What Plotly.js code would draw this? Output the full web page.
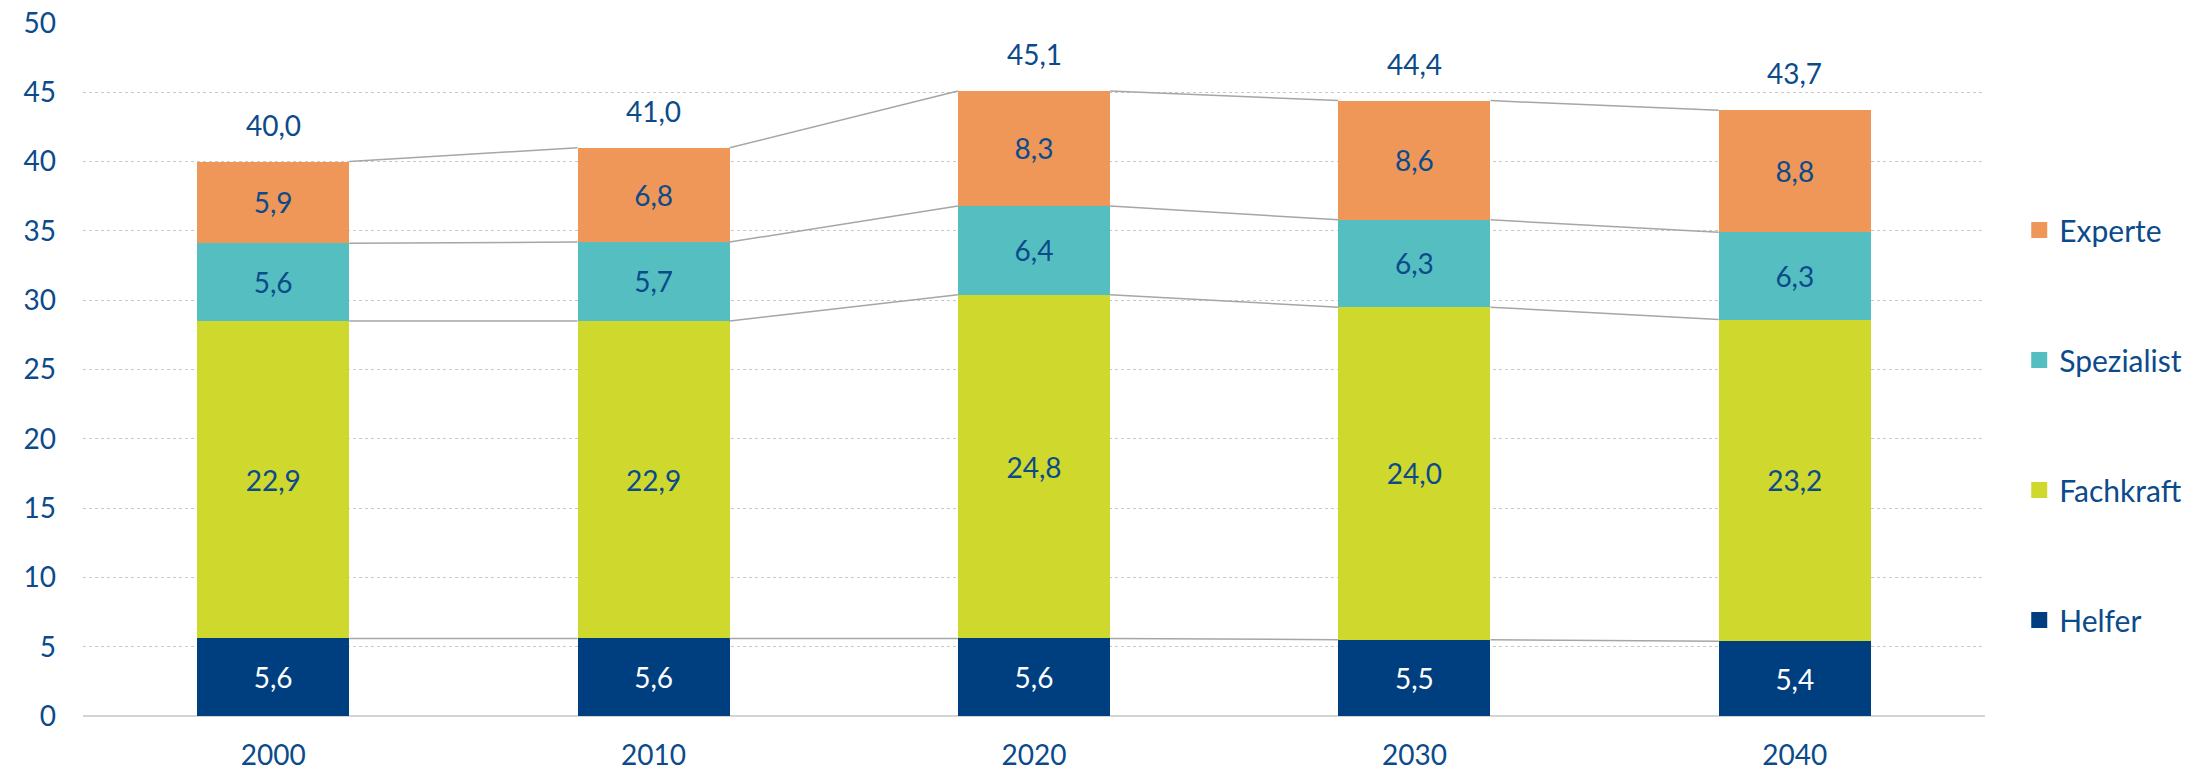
<!DOCTYPE html>
<html>
<head>
<meta charset="utf-8">
<script src="https://cdn.plot.ly/plotly-3.0.1.min.js"></script>
<style>
  html, body { margin: 0; padding: 0; background: #ffffff; }
  #chart { width: 2208px; height: 772px; }
</style>
</head>
<body>
<div id="chart"></div>
<script>
// Werte je Anforderungsniveau (Mio.), von unten nach oben gestapelt
const years = ['2000', '2010', '2020', '2030', '2040'];
const helfer = [5.6, 5.6, 5.6, 5.5, 5.4];
const fachkraft = [22.9, 22.9, 24.8, 24.0, 23.2];
const spezialist = [5.6, 5.7, 6.4, 6.3, 6.3];
const experte = [5.9, 6.8, 8.3, 8.6, 8.8];
const totals = [40.0, 41.0, 45.1, 44.4, 43.7];

const textBlue = '#0b4a8b';
const fontFam = 'Lato, "Noto Sans", sans-serif';
const halfBar = 0.2;

const series = [
    { name: 'Helfer', y: helfer, color: '#003f7f', text: '#ffffff' },
    { name: 'Fachkraft', y: fachkraft, color: '#cfd82d', text: textBlue },
    { name: 'Spezialist', y: spezialist, color: '#55bec0', text: textBlue },
    { name: 'Experte', y: experte, color: '#ee9758', text: textBlue }
];

const xIdx = years.map((_, i) => i);
const traces = [];

// cumulative tops for the connector lines
let running = years.map(() => 0);
const levels = [];

series.forEach(s => {
    traces.push({
        type: 'bar',
        x: xIdx,
        y: s.y,
        width: halfBar * 2,
        name: s.name,
        showlegend: false,
        marker: { color: s.color, line: { width: 0 } },
        texttemplate: '%{y:.1f}',
        textposition: 'inside',
        insidetextanchor: 'middle',
        constraintext: 'none',
        textfont: { color: s.text, size: 28, family: fontFam },
        hoverinfo: 'skip'
    });
    running = running.map((v, i) => v + s.y[i]);
    levels.push(running.slice());
});

// gray connectors between neighbouring bars
levels.forEach(lv => {
    const lx = [], ly = [];
    for (let i = 0; i < lv.length - 1; i++) {
        lx.push(i + halfBar, i + 1 - halfBar, null);
        ly.push(lv[i], lv[i + 1], null);
    }
    traces.push({
        type: 'scatter', mode: 'lines', x: lx, y: ly,
        line: { color: '#a6a6a6', width: 1.5 },
        showlegend: false, hoverinfo: 'skip'
    });
});

// legend-only entries, top entry = top of the stack
series.slice().reverse().forEach((s, k) => {
    traces.push({
        type: 'scatter', mode: 'markers', x: [null], y: [null],
        name: s.name, legendgroup: 'g' + k,
        marker: { symbol: 'square', size: 16, color: s.color }
    });
});

const annotations = totals.map((t, i) => ({
    x: i, y: t, xref: 'x', yref: 'y',
    text: t.toFixed(1).replace('.', ','),
    showarrow: false, yanchor: 'bottom', yshift: 18,
    font: { color: textBlue, size: 28, family: fontFam }
}));

const layout = {
    width: 2208,
    height: 772,
    paper_bgcolor: '#ffffff',
    plot_bgcolor: '#ffffff',
    barmode: 'stack',
    separators: ',.',
    margin: { l: 83, r: 223, t: 23, b: 56 },
    font: { family: fontFam, color: textBlue },
    xaxis: {
        range: [-0.5, 4.5],
        tickvals: xIdx,
        ticktext: years,
        showgrid: false,
        zeroline: false,
        showline: false,
        ticks: '',
        ticklabelstandoff: 20,
        tickfont: { size: 28, color: textBlue, family: fontFam }
    },
    yaxis: {
        range: [0, 50],
        dtick: 5,
        gridcolor: '#c8c8c8',
        griddash: 'dot',
        gridwidth: 1,
        zeroline: true,
        zerolinecolor: '#d4d4d4',
        zerolinewidth: 2,
        ticks: '',
        ticklabelstandoff: 26,
        tickfont: { size: 28, color: textBlue, family: fontFam }
    },
    legend: {
        x: 1.018, xanchor: 'left',
        y: 0.42, yanchor: 'middle',
        traceorder: 'grouped',
        tracegroupgap: 88,
        itemwidth: 30,
        font: { size: 30, color: textBlue, family: fontFam },
        bgcolor: 'rgba(0,0,0,0)'
    },
    annotations: annotations
};

Plotly.newPlot('chart', traces, layout, { displayModeBar: false, responsive: false });
</script>
</body>
</html>
